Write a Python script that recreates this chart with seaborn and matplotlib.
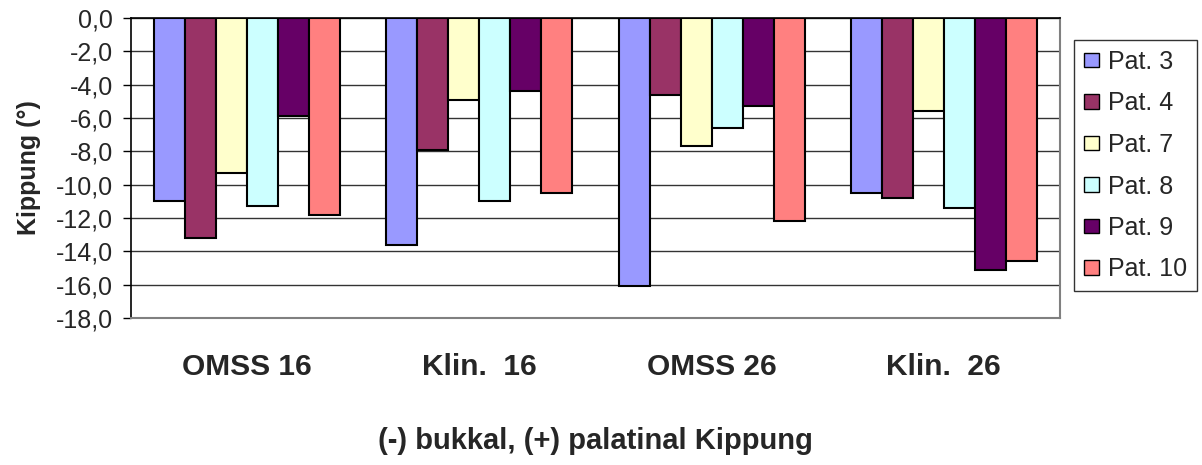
import matplotlib
matplotlib.use("Agg")
import matplotlib.pyplot as plt
import seaborn as sns
import pandas as pd
from matplotlib.ticker import FuncFormatter, MultipleLocator

categories = ["OMSS 16", "Klin.  16", "OMSS 26", "Klin.  26"]
patients = ["Pat. 3", "Pat. 4", "Pat. 7", "Pat. 8", "Pat. 9", "Pat. 10"]
pat3 = [-11.0, -13.6, -16.1, -10.5]
pat4 = [-13.2, -7.9, -4.6, -10.8]
pat7 = [-9.3, -4.9, -7.7, -5.6]
pat8 = [-11.3, -11.0, -6.6, -11.4]
pat9 = [-5.9, -4.4, -5.3, -15.1]
pat10 = [-11.8, -10.5, -12.2, -14.6]
colors = ["#9999FF", "#993366", "#FFFFCC", "#CCFFFF", "#660066", "#FF8080"]

series = [pat3, pat4, pat7, pat8, pat9, pat10]
rows = []
for p, vals in zip(patients, series):
    for c, v in zip(categories, vals):
        rows.append({"Gruppe": c, "Patient": p, "Kippung": v})
df = pd.DataFrame(rows)

sns.set_style("white")
plt.rcParams["font.family"] = ["Liberation Sans", "DejaVu Sans"]

W, H = 1202, 465
fig = plt.figure(figsize=(W / 100, H / 100), dpi=100)
ax = fig.add_axes([131 / W, 1 - 318 / H, (1060 - 131) / W, 300 / H])

sns.barplot(data=df, x="Gruppe", y="Kippung", hue="Patient", order=categories,
            hue_order=patients, palette=colors, width=0.8, gap=0,
            edgecolor="black", linewidth=1.5, saturation=1, ax=ax, legend=True)

ax.set_ylim(-18, 0)
ax.yaxis.set_major_locator(MultipleLocator(2))
ax.yaxis.set_major_formatter(FuncFormatter(lambda v, _: f"{v:.1f}".replace(".", ",")))
ax.set_axisbelow(True)
ax.grid(axis="y", color="#333333", linewidth=1.0)
ax.grid(axis="x", visible=False)

for side in ["right", "bottom"]:
    ax.spines[side].set_color("#808080")
    ax.spines[side].set_linewidth(1.5)
ax.spines["left"].set_color("black")
ax.spines["left"].set_linewidth(1.2)
ax.spines["top"].set_color("black")
ax.spines["top"].set_linewidth(1.2)

ax.tick_params(axis="y", which="major", direction="out", length=6, width=1,
               color="black", labelsize=18, pad=7, left=True)
ax.tick_params(axis="x", length=0, labelsize=21.5, pad=25)
for lbl in ax.get_xticklabels():
    lbl.set_fontweight("bold")

ax.set_ylabel("Kippung (°)", fontsize=18, fontweight="bold", labelpad=11)
ax.set_xlabel("(-) bukkal, (+) palatinal Kippung", fontsize=21, fontweight="bold", labelpad=33)

leg = ax.legend(loc="upper left", bbox_to_anchor=(1074 / W, 1 - 40 / H),
                bbox_transform=fig.transFigure, frameon=True, fancybox=False,
                fontsize=18, handlelength=0.6, handleheight=0.5, handletextpad=0.35,
                labelspacing=0.7, borderpad=0.4, borderaxespad=0)
leg.get_frame().set_edgecolor("black")
leg.get_frame().set_linewidth(1.0)
for h in leg.legend_handles:
    h.set_linewidth(1.0)

fig.savefig("out.png", dpi=100)
